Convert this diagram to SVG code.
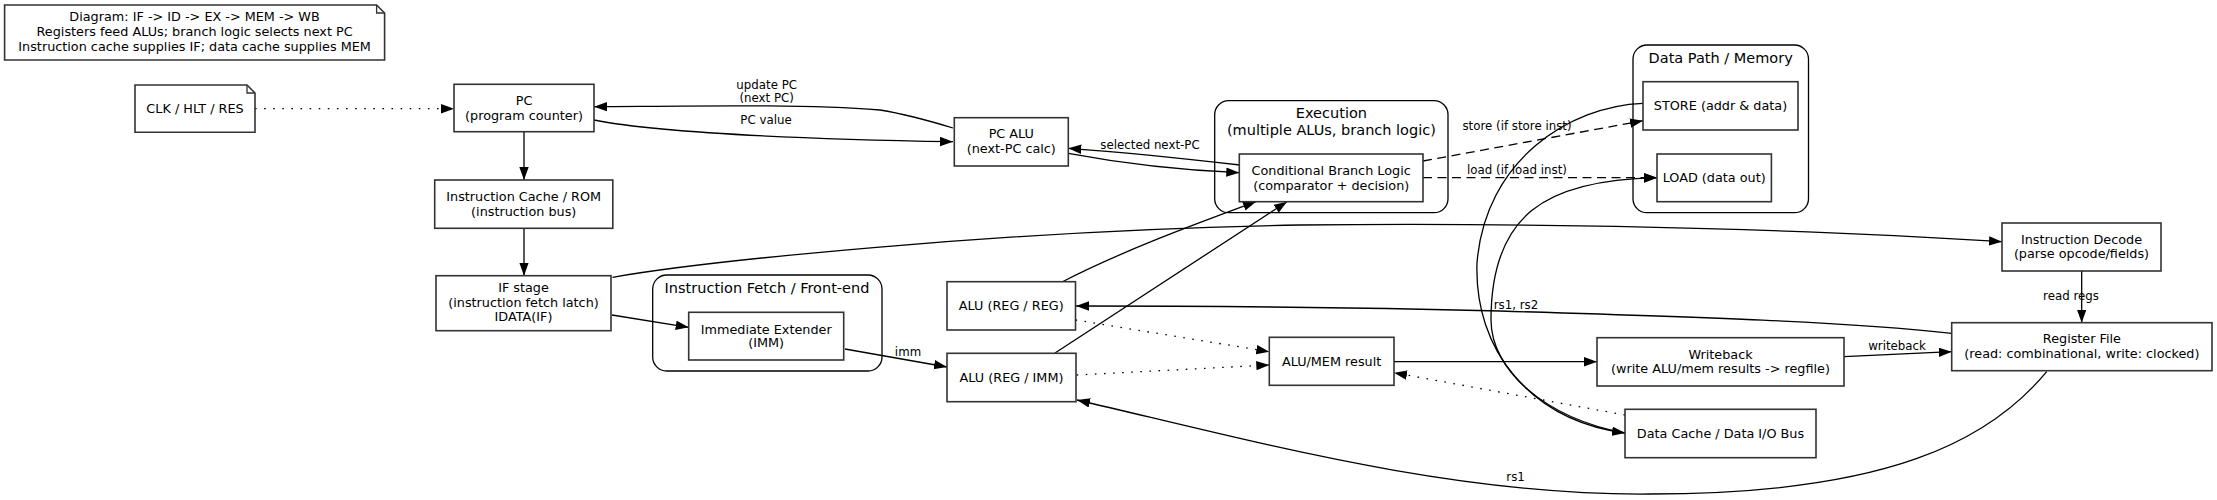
<svg xmlns="http://www.w3.org/2000/svg" width="2217" height="500" viewBox="0 0 2217 500">
<style>
  .bg { fill: #ffffff; }
  .box { fill: #ffffff; stroke: #333333; stroke-width: 1.6; }
  .cluster { fill: none; stroke: #000000; stroke-width: 1.3; }
  .t { font-family: "DejaVu Sans", sans-serif; font-size: 12.8px; fill: #000000; text-anchor: middle; }
  .ct { font-family: "DejaVu Sans", sans-serif; font-size: 14.5px; fill: #000000; text-anchor: middle; }
  .et { font-family: "DejaVu Sans", sans-serif; font-size: 11.8px; fill: #000000; text-anchor: middle; }
  .e { fill: none; stroke: #000000; stroke-width: 1.3; marker-end: url(#arr); }
  .dot { stroke-dasharray: 1.6 7.5; }
  .dash { stroke-dasharray: 9 5.5; }
  .plain { fill: none; stroke: #000000; stroke-width: 1.3; }
</style>
<defs>
  <marker id="arr" markerUnits="userSpaceOnUse" markerWidth="14" markerHeight="10" refX="13" refY="4.7" orient="auto">
    <path d="M0,0 L13,4.7 L0,9.4 z" fill="#000000" stroke="none"/>
  </marker>
</defs>
<rect class="bg" x="0" y="0" width="2217" height="500"/>

<g id="clusters">
  <g id="cluster_fetch">
    <rect class="cluster" x="652.7" y="275" width="229.3" height="96" rx="14" ry="14"/>
    <text class="ct" x="767" y="292.5">Instruction Fetch / Front-end</text>
  </g>
  <g id="cluster_exec">
    <rect class="cluster" x="1214.7" y="100.7" width="233.3" height="112" rx="14" ry="14"/>
    <text class="ct" x="1331.4" y="118">Execution</text>
    <text class="ct" x="1331.4" y="134.6">(multiple ALUs, branch logic)</text>
  </g>
  <g id="cluster_mem">
    <rect class="cluster" x="1633" y="45" width="175.5" height="167.7" rx="14" ry="14"/>
    <text class="ct" x="1720.7" y="62.6">Data Path / Memory</text>
  </g>
</g>

<g id="edges">
  <path class="e dot" d="M255,108.7 L454,108.7"/>
  <path class="e" d="M524,131.7 L524,180"/>
  <path class="e" d="M524,228.3 L524,275.7"/>
  <path class="e" d="M594,120 C660,133 800,139 953,141.7"/>
  <text class="et" x="766" y="123.5">PC value</text>
  <path class="e" d="M953,128 C930,121 905,114 880,110 C800,104 700,106 594,106.7"/>
  <text class="et" x="766.7" y="88.5">update PC</text>
  <text class="et" x="766.7" y="101.5">(next PC)</text>
  <path class="e" d="M1240,165 C1180,158 1120,152 1068.3,148.3"/>
  <text class="et" x="1150" y="149.2">selected next-PC</text>
  <path class="e" d="M1068.3,153.3 C1120,163 1180,170 1239.3,172.7"/>
  <path class="e dash" d="M1423,161 L1643,120.7"/>
  <text class="et" x="1517" y="130">store (if store inst)</text>
  <path class="e dash" d="M1423,177.7 L1657,177.7"/>
  <text class="et" x="1517" y="174.2">load (if load inst)</text>
  <path class="e" d="M1062,282 C1120,252 1190,226 1256,201.7"/>
  <path class="e" d="M1055,353 L1287,201.7"/>
  <path class="e" d="M612.5,277.3 C700,262 1000,230 1300,225 C1600,222 1850,232 2002,241.7"/>
  <path class="e" d="M612,315 L688.7,327.3"/>
  <path class="e" d="M845,349 L947,367"/>
  <text class="et" x="908" y="355.9">imm</text>
  <path class="e dot" d="M1075.5,320 L1269.3,351.7"/>
  <path class="e dot" d="M1076.7,375 L1269.3,365"/>
  <path class="e" d="M1951.7,333.3 C1850,322 1700,317 1500,311 C1300,306 1150,306 1076,306"/>
  <text class="et" x="1516" y="309.2">rs1, rs2</text>
  <path class="e" d="M2046.7,371.7 C1990,440 1890,494 1650,494 C1450,496 1250,440 1077,400"/>
  <text class="et" x="1515.6" y="481">rs1</text>
  <path class="e" d="M1394,361.7 L1597,361.7"/>
  <path class="e" d="M1844,356.7 L1951.7,351.7"/>
  <text class="et" x="1897" y="350">writeback</text>
  <path class="e" d="M2081.7,271 L2081.7,322.7"/>
  <text class="et" x="2071" y="300.2">read regs</text>
  <path class="e dot" d="M1625,415 L1394,372.7"/>
  <path class="e" d="M1643,103.3 C1570,106 1485,160 1477,263 C1474,350 1530,420 1625,433"/>
  <path class="e" d="M1625,433 C1545,418 1491,370 1491,320 C1491,215 1545,180 1657,177.7"/>
</g>

<g id="note_summary">
  <path class="box" d="M4.6,5 L376.6,5 L384.6,13 L384.6,60 L4.6,60 Z"/>
  <path class="plain" style="stroke:#333333" d="M376.6,5 L376.6,13 L384.6,13"/>
  <text class="t" x="194.6" y="20.7">Diagram: IF -&gt; ID -&gt; EX -&gt; MEM -&gt; WB</text>
  <text class="t" x="194.6" y="36.2">Registers feed ALUs; branch logic selects next PC</text>
  <text class="t" x="194.6" y="51.2">Instruction cache supplies IF; data cache supplies MEM</text>
</g>
<g id="node_clk">
  <path class="box" d="M135,85 L247,85 L255,93 L255,132.3 L135,132.3 Z"/>
  <path class="plain" style="stroke:#333333" d="M247,85 L247,93 L255,93"/>
  <text class="t" x="195" y="113.2">CLK / HLT / RES</text>
</g>
<g id="node_pc">
  <rect class="box" x="454" y="84.3" width="140" height="47.4"/>
  <text class="t" x="524" y="105">PC</text>
  <text class="t" x="524" y="120">(program counter)</text>
</g>
<g id="node_icache">
  <rect class="box" x="434.7" y="180" width="178.1" height="48.3"/>
  <text class="t" x="523.7" y="201.2">Instruction Cache / ROM</text>
  <text class="t" x="523.7" y="216.2">(instruction bus)</text>
</g>
<g id="node_if">
  <rect class="box" x="436" y="275.7" width="175" height="55"/>
  <text class="t" x="523.5" y="292.2">IF stage</text>
  <text class="t" x="523.5" y="306.8">(instruction fetch latch)</text>
  <text class="t" x="523.5" y="321.2">IDATA(IF)</text>
</g>
<g id="node_imm">
  <rect class="box" x="688.7" y="312.3" width="155" height="47.7"/>
  <text class="t" x="766.2" y="333.5">Immediate Extender</text>
  <text class="t" x="766.2" y="347.2">(IMM)</text>
</g>
<g id="node_pcalu">
  <rect class="box" x="954.3" y="117.7" width="114" height="48.3"/>
  <text class="t" x="1011.3" y="138.2">PC ALU</text>
  <text class="t" x="1011.3" y="153.2">(next-PC calc)</text>
</g>
<g id="node_branch">
  <rect class="box" x="1239.3" y="154" width="183.7" height="47.7"/>
  <text class="t" x="1331.2" y="174.5">Conditional Branch Logic</text>
  <text class="t" x="1331.2" y="189.5">(comparator + decision)</text>
</g>
<g id="node_alu_rr">
  <rect class="box" x="947" y="281.7" width="128.5" height="48.3"/>
  <text class="t" x="1011.2" y="310.3">ALU (REG / REG)</text>
</g>
<g id="node_alu_ri">
  <rect class="box" x="947" y="353.3" width="129" height="48.4"/>
  <text class="t" x="1011.5" y="382">ALU (REG / IMM)</text>
</g>
<g id="node_alumem">
  <rect class="box" x="1269.3" y="337.3" width="124.7" height="48"/>
  <text class="t" x="1331.6" y="365.8">ALU/MEM result</text>
</g>
<g id="node_store">
  <rect class="box" x="1643" y="81.7" width="155" height="48.3"/>
  <text class="t" x="1720.5" y="110.3">STORE (addr &amp; data)</text>
</g>
<g id="node_load">
  <rect class="box" x="1657" y="154" width="114.4" height="47.7"/>
  <text class="t" x="1714.2" y="182.3">LOAD (data out)</text>
</g>
<g id="node_writeback">
  <rect class="box" x="1597" y="337.7" width="247" height="48.3"/>
  <text class="t" x="1720.5" y="358.5">Writeback</text>
  <text class="t" x="1720.5" y="373">(write ALU/mem results -&gt; regfile)</text>
</g>
<g id="node_dcache">
  <rect class="box" x="1625" y="409.3" width="191" height="48.4"/>
  <text class="t" x="1720.5" y="438">Data Cache / Data I/O Bus</text>
</g>
<g id="node_decode">
  <rect class="box" x="2002" y="223" width="159" height="48"/>
  <text class="t" x="2081.5" y="243.5">Instruction Decode</text>
  <text class="t" x="2081.5" y="258">(parse opcode/fields)</text>
</g>
<g id="node_regfile">
  <rect class="box" x="1951.7" y="322.7" width="260.3" height="48"/>
  <text class="t" x="2081.9" y="342.8">Register File</text>
  <text class="t" x="2081.9" y="357.8">(read: combinational, write: clocked)</text>
</g>
</svg>
